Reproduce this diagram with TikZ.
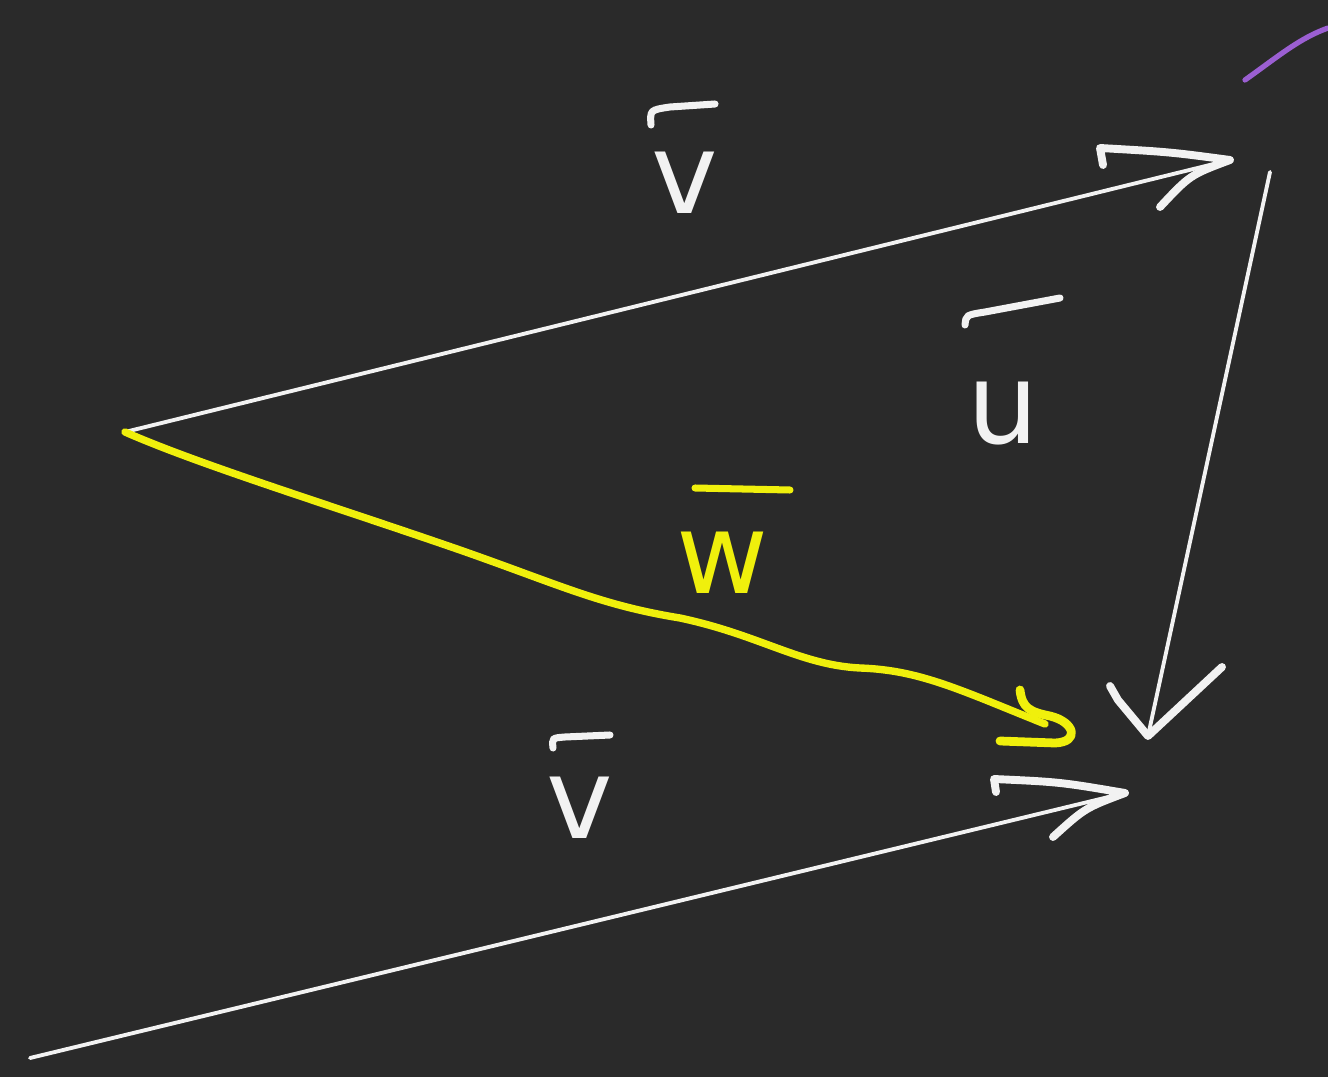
\documentclass[tikz,border=0pt]{standalone}
\usepackage{fontspec}
\setmainfont{DejaVu Sans}
\usetikzlibrary{arrows.meta}
\definecolor{board}{HTML}{2A2A2A}
\definecolor{chalk}{HTML}{F2F2F2}
\definecolor{hl}{HTML}{F0F00C}
\definecolor{purp}{HTML}{9B5FD2}
\begin{document}
\begin{tikzpicture}[x=0.02cm,y=-0.02cm,
  vec/.style={draw=chalk, line width=2.2pt, line cap=round},
  head/.style={draw=chalk, line width=4.5pt, line cap=round, line join=round},
  lbl/.style={text=chalk, font=\fontsize{64}{64}\selectfont, inner sep=0pt},
  bar/.style={draw=chalk, line width=4pt, line cap=round}]
\fill[board] (0,0) rectangle (1328,1077);
\useasboundingbox (0,0) rectangle (1328,1077);
% points
\coordinate (A) at (125,432);
\coordinate (B) at (1230,160);
\coordinate (Ct) at (1270,172);
\coordinate (C) at (1148,736);
\coordinate (D) at (30,1058);
\coordinate (E) at (1125,793);
\coordinate (W) at (1045,724);
% top v
\draw[vec] (A) -- (B);
\draw[head] (1103,165) -- (1100,148) .. controls (1170,152) .. (B) .. controls (1190,175) .. (1160,207);
% u
\draw[vec] (Ct) -- (C);
\draw[head] (1110,686) -- (1118,700) -- (C) -- (1222,667);
% bottom v
\draw[vec] (D) -- (E);
\draw[head] (996,792) -- (994,779) .. controls (1060,782) .. (E) .. controls (1085,808) .. (1053,837);
% yellow w
\draw[hl, line width=4.2pt, line cap=round, line join=round]
  (A) .. controls (200,465) and (330,505) .. (460,550)
  .. controls (560,585) and (600,605) .. (680,618)
  .. controls (760,635) and (800,665) .. (860,668)
  .. controls (920,670) and (960,690) .. (W);
\draw[hl, line width=5pt, line cap=round, line join=round]
  (1020,690) .. controls (1022,708) and (1030,712) .. (1050,716)
  .. controls (1075,722) and (1080,742) .. (1055,743) -- (1000,741);
% purple stroke
\draw[purp, line width=3pt, line cap=round] (1245,80) .. controls (1280,55) and (1300,38) .. (1328,28);
% labels
\node[lbl] (lv1) at (685,183) {v};
\draw[bar] (651,125) .. controls (650,110) .. (670,107) -- (715,104);
\node[lbl] (lu) at (1003,413) {u};
\draw[bar] (965,325) .. controls (966,315) .. (985,312) -- (1060,298);
\node[lbl, text=hl] (lw) at (722,563) {w};
\draw[bar, draw=hl] (695,488) -- (790,490);
\node[lbl] (lv2) at (580,808) {v};
\draw[bar] (553,748) .. controls (552,738) .. (565,737) -- (610,735);
\end{tikzpicture}
\end{document}
